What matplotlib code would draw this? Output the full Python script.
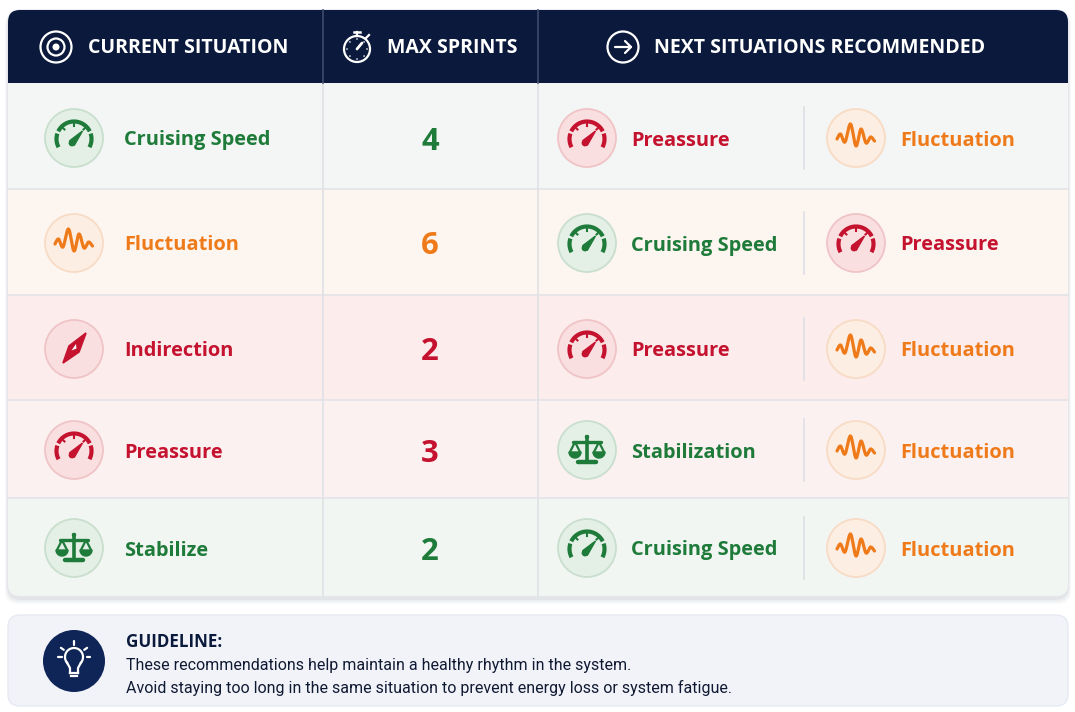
import numpy as np
import matplotlib
matplotlib.use("Agg")
import matplotlib.pyplot as plt
from matplotlib.patches import FancyBboxPatch, Rectangle, Circle, Polygon

# ---------------- data ----------------
current_situation = ["Cruising Speed", "Fluctuation", "Indirection", "Preassure", "Stabilize"]
max_sprints = [4, 6, 2, 3, 2]
next_first = ["Preassure", "Cruising Speed", "Preassure", "Stabilization", "Cruising Speed"]
next_second = ["Fluctuation", "Preassure", "Fluctuation", "Fluctuation", "Fluctuation"]
headers = ["CURRENT SITUATION", "MAX SPRINTS", "NEXT SITUATIONS RECOMMENDED"]
guide_title = "GUIDELINE:"
guide_lines = ["These recommendations help maintain a healthy rhythm in the system.",
               "Avoid staying too long in the same situation to prevent energy loss or system fatigue."]

# ---------------- styling ----------------
W, H = 1075, 712
NAVY = "#0b1a3c"
GREEN, ORANGE, RED = "#1e7b3a", "#ef7a1a", "#c4122f"
kind = {"Cruising Speed": ("green", "gauge"), "Fluctuation": ("orange", "wave"),
        "Indirection": ("red", "compass"), "Preassure": ("red", "gauge"),
        "Stabilize": ("green", "scale"), "Stabilization": ("green", "scale")}
pal = {"green": dict(fg=GREEN, face="#e4efe6", edge="#c9dfcd"),
       "orange": dict(fg=ORANGE, face="#fdeee3", edge="#f8dbc4"),
       "red": dict(fg=RED, face="#f9dfe0", edge="#f0c4c6")}
row_bg = ["#f3f6f4", "#fdf5f0", "#fcecec", "#fcf1f1", "#f2f6f3"]

def px(v):
    return v * 72 / 100

plt.rcParams['font.family'] = ["Open Sans", "DejaVu Sans"]

fig = plt.figure(figsize=(W / 100, H / 100), dpi=100)
ax = fig.add_axes([0, 0, 1, 1])
ax.set_xlim(0, W)
ax.set_ylim(H, 0)
ax.axis("off")
fig.patch.set_facecolor("white")

# table geometry
TX0, TX1, TY0, TY1 = 8, 1068, 10, 596
HEAD_B = 83
row_edges = [83, 189, 295, 400, 498, 596]
col_x = [323, 538]

# shadow
for d, a in [(6, 0.03), (4, 0.04), (2, 0.05)]:
    ax.add_patch(FancyBboxPatch((TX0 - d / 2, TY0 + 2), TX1 - TX0 + d, TY1 - TY0 + d,
                                boxstyle="round,pad=0,rounding_size=14", fc="#1a2340",
                                ec="none", alpha=a, zorder=0))
outer = FancyBboxPatch((TX0, TY0), TX1 - TX0, TY1 - TY0, boxstyle="round,pad=0,rounding_size=12",
                       fc="white", ec="#e6e8ee", lw=1, zorder=1)
ax.add_patch(outer)

hdr = Rectangle((TX0, TY0), TX1 - TX0, HEAD_B - TY0, fc=NAVY, ec="none", zorder=2)
ax.add_patch(hdr)
hdr.set_clip_path(outer)
for i in range(5):
    r = Rectangle((TX0, row_edges[i]), TX1 - TX0, row_edges[i + 1] - row_edges[i],
                  fc=row_bg[i], ec="none", zorder=2)
    ax.add_patch(r)
    r.set_clip_path(outer)
for y in row_edges[1:-1]:
    ax.plot([TX0, TX1], [y, y], color="#e3e3e8", lw=1.2, zorder=3)
for x in col_x:
    ax.plot([x, x], [HEAD_B, TY1], color="#e0e1e6", lw=1.2, zorder=3)
    ax.plot([x, x], [TY0, HEAD_B], color="#3d4b6b", lw=1.2, zorder=3)

# ---------------- icon helpers ----------------
def P(cx, cy, r, deg):
    t = np.radians(deg)
    return cx + r * np.cos(t), cy - r * np.sin(t)

def catmull(v, n=240):
    tt = np.linspace(0, len(v) - 1, n)
    out = []
    for u in tt:
        i = min(int(u), len(v) - 2)
        f = u - i
        p0 = v[max(i - 1, 0)]; p1 = v[i]; p2 = v[i + 1]; p3 = v[min(i + 2, len(v) - 1)]
        out.append(0.5 * ((2 * p1) + (-p0 + p2) * f + (2 * p0 - 5 * p1 + 4 * p2 - p3) * f ** 2
                          + (-p0 + 3 * p1 - 3 * p2 + p3) * f ** 3))
    return np.array(out)

def gauge(cx, cy, c):
    r = 17.5
    oy = cy + 1
    for a0, a1 in [(-28, 18), (26, 154), (162, 208)]:
        t = np.linspace(a0, a1, 40)
        xs, ys = P(cx, oy, r, t)
        ax.plot(xs, ys, color=c, lw=3.0, solid_capstyle="butt", zorder=6)
    for a in [45, 90, 135]:
        x1, y1 = P(cx, oy, r - 4, a)
        x2, y2 = P(cx, oy, r, a)
        ax.plot([x1, x2], [y1, y2], color=c, lw=1.5, zorder=6)
    bx, by = cx - 2, oy + 4
    ax.add_patch(Polygon([(bx - 2.3, by - 2.3), (cx + 8.5, oy - 8), (bx + 2.3, by + 2.3)],
                         closed=True, fc=c, ec=c, lw=1, zorder=6))
    ax.add_patch(Circle((bx, by), 3.4, fc=c, ec="none", zorder=6))

def wave(cx, cy, c):
    xs = np.array([-19, -15.5, -11, -5.5, 0, 5, 10, 14.5, 18.5])
    ys = np.array([1, -4, 4, -14, 8, -9, 5, -1, 3])
    ax.plot(cx + catmull(xs), cy + catmull(ys), color=c, lw=2.3, solid_capstyle="round",
            solid_joinstyle="round", zorder=6)

def compass(cx, cy, c):
    tip1 = (cx - 11, cy + 14)
    tip2 = (cx + 12, cy - 16)
    side1 = (cx - 5, cy - 3)
    side2 = (cx + 5, cy + 3)
    ax.add_patch(Polygon([tip1, side1, tip2, side2], closed=True, fc=c, ec=c, lw=1.2, zorder=6))
    ax.add_patch(Polygon([(cx - 2.5, cy + 1.5), (cx + 2, cy - 5), (cx + 2.5, cy - 0.5)],
                         closed=True, fc="white", ec="none", zorder=7))

def scale(cx, cy, c):
    ax.plot([cx, cx], [cy - 13, cy + 11], color=c, lw=2.6, zorder=6)
    ax.plot([cx - 9, cx + 9], [cy + 12, cy + 12], color=c, lw=3.2, zorder=6,
            solid_capstyle="round")
    ax.plot([cx - 14, cx + 14], [cy - 8, cy - 8], color=c, lw=2.4, zorder=6,
            solid_capstyle="round")
    ax.add_patch(Circle((cx, cy - 13), 2.2, fc=c, ec="none", zorder=6))
    for sx in (-1, 1):
        p0 = cx + sx * 12
        ax.plot([p0 - 5, p0, p0 + 5], [cy + 2, cy - 8, cy + 2], color=c, lw=1.6, zorder=6)
        t = np.linspace(0, 180, 30)
        xs, ys = P(p0, cy + 2, 6, -t)
        ax.fill(xs, ys, color=c, zorder=6)

drawers = {"gauge": gauge, "wave": wave, "compass": compass, "scale": scale}

def badge(cx, cy, name, r=29):
    k, ic = kind[name]
    p = pal[k]
    ax.add_patch(Circle((cx, cy), r, fc=p["face"], ec=p["edge"], lw=1.3, zorder=5))
    drawers[ic](cx, cy, p["fg"])
    return p["fg"]

LABEL_PT = px(20)

# ---------------- header ----------------
hy = 47
ax.add_patch(Circle((56, hy), 15.5, fc="none", ec="white", lw=1.6, zorder=6))
ax.add_patch(Circle((56, hy), 8.5, fc="none", ec="white", lw=1.6, zorder=6))
ax.add_patch(Circle((56, hy), 3.5, fc="white", ec="none", zorder=6))
ax.add_patch(Circle((357, hy + 2), 13, fc="none", ec="white", lw=1.6, zorder=6))
ax.plot([354, 360], [hy - 15, hy - 15], color="white", lw=1.8, zorder=6)
ax.plot([357, 357], [hy - 15, hy - 11], color="white", lw=1.6, zorder=6)
ax.plot([366, 369], [hy - 9, hy - 12], color="white", lw=1.6, zorder=6)
ax.plot([357, 362], [hy + 2, hy - 4], color="white", lw=2, solid_capstyle="round", zorder=6)
for a in range(0, 360, 45):
    x1, y1 = P(357, hy + 2, 10, a)
    ax.add_patch(Circle((x1, y1), 0.8, fc="white", ec="none", zorder=6))
ax.add_patch(Circle((623, hy), 15.5, fc="none", ec="white", lw=1.6, zorder=6))
ax.plot([615, 631], [hy, hy], color="white", lw=1.6, zorder=6, solid_capstyle="round")
ax.plot([625, 631, 625], [hy - 6, hy, hy + 6], color="white", lw=1.6, zorder=6,
        solid_capstyle="round", solid_joinstyle="round")

HEAD_PT = px(19.5)
for hx, txt in zip([88, 387, 654], headers):
    ax.text(hx, hy + 1, txt, color="white", fontsize=HEAD_PT, fontweight="bold",
            va="center", ha="left", zorder=6)

# ---------------- rows ----------------
row_cy = [138, 243, 349, 450, 548]
for i, cy in enumerate(row_cy):
    c = badge(74, cy, current_situation[i])
    ax.text(124, cy, current_situation[i], color=c, fontsize=LABEL_PT, fontweight="bold",
            va="center_baseline", ha="left", zorder=6)
    ax.text(430, cy, str(max_sprints[i]), color=c, fontsize=px(31), fontweight="bold",
            va="center_baseline", ha="center", zorder=6)
    c1 = badge(587, cy, next_first[i])
    ax.text(631, cy, next_first[i], color=c1, fontsize=LABEL_PT, fontweight="bold",
            va="center_baseline", ha="left", zorder=6)
    ax.plot([804, 804], [cy - 31, cy + 31], color="#dedfe4", lw=1.2, zorder=4)
    c2 = badge(856, cy, next_second[i])
    ax.text(900, cy, next_second[i], color=c2, fontsize=LABEL_PT, fontweight="bold",
            va="center_baseline", ha="left", zorder=6)

# ---------------- guideline ----------------
ax.add_patch(FancyBboxPatch((8, 615), 1060, 91, boxstyle="round,pad=0,rounding_size=12",
                            fc="#f1f3f9", ec="#e6e9f1", lw=1, zorder=1))
gx, gy = 74, 661
ax.add_patch(Circle((gx, gy), 31, fc="#0f2558", ec="none", zorder=5))
t = np.linspace(-40, 220, 60)
bx, by = P(gx, gy - 4, 9, t)
ax.plot(bx, by, color="white", lw=1.6, zorder=6)
ax.plot([bx[0], gx + 4, gx + 4], [by[0], gy + 7, gy + 12], color="white", lw=1.6, zorder=6)
ax.plot([bx[-1], gx - 4, gx - 4], [by[-1], gy + 7, gy + 12], color="white", lw=1.6, zorder=6)
ax.plot([gx - 4, gx + 4], [gy + 12, gy + 12], color="white", lw=1.6, zorder=6)
ax.plot([gx - 3, gx + 3], [gy + 15, gy + 15], color="white", lw=1.6, zorder=6)
for a in [0, 35, 90, 145, 180]:
    x1, y1 = P(gx, gy - 4, 12.5, a)
    x2, y2 = P(gx, gy - 4, 16, a)
    ax.plot([x1, x2], [y1, y2], color="white", lw=1.6, zorder=6, solid_capstyle="round")

ax.text(126, 640, guide_title, color="#0b1a3c", fontsize=px(17), fontweight="bold",
        va="center_baseline", ha="left", zorder=6)
for yy, line in zip([664, 686], guide_lines):
    ax.text(126, yy, line, color="#111a33", fontsize=px(16), va="center_baseline",
            ha="left", zorder=6, family=["Roboto", "DejaVu Sans"])

fig.savefig("out.png", dpi=100, facecolor="white")
